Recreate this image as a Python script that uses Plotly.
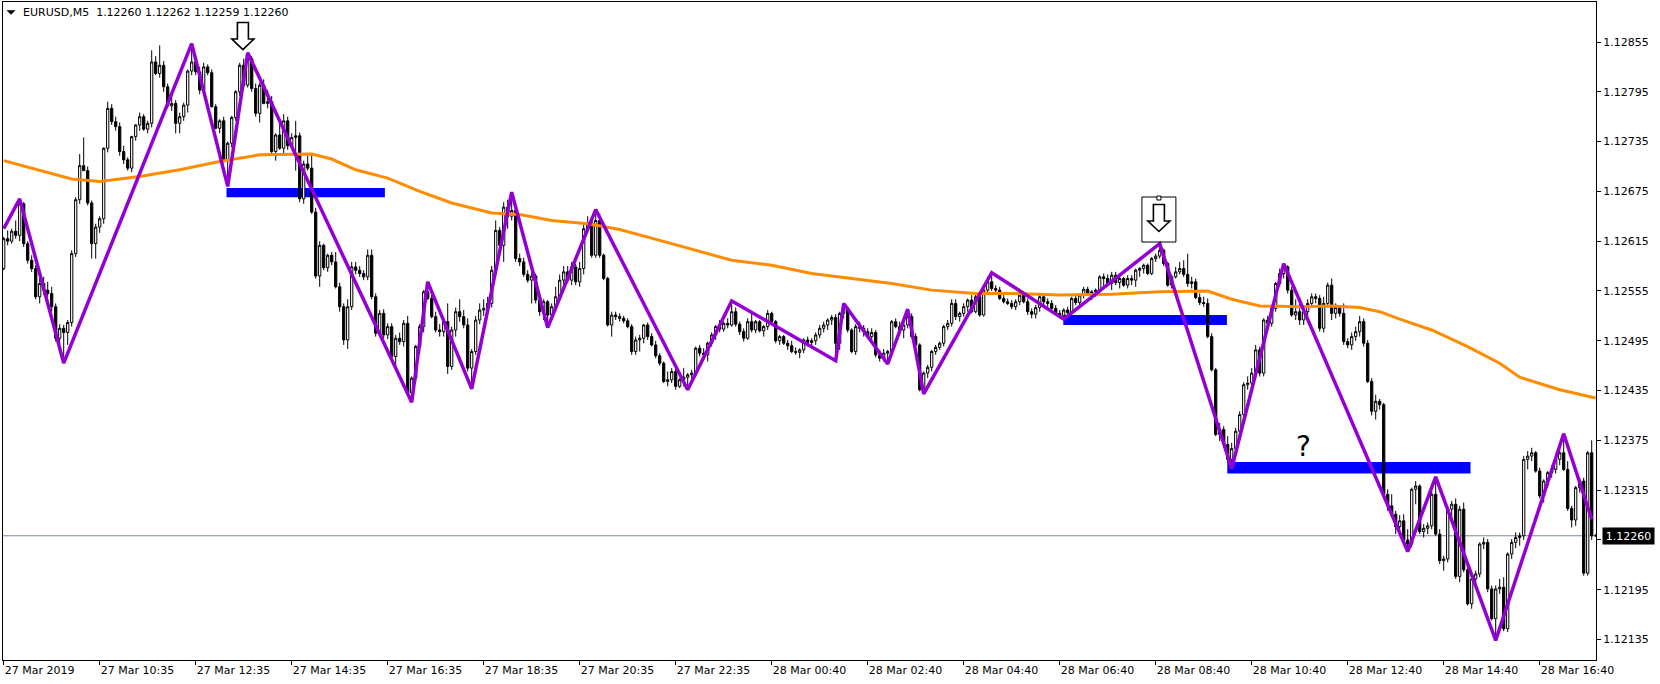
import plotly.graph_objects as go

# ---------------- DATA (prices in points above 1.12000, 1 pt = 0.00001) ----------------
open_pts = [
    582, 618, 615, 627, 622, 660, 612, 592, 582, 548,
    564, 556, 552, 536, 498, 510, 505, 517, 600, 665,
    706, 700, 661, 612, 632, 642, 727, 775, 759, 753,
    723, 713, 703, 741, 755, 765, 750, 757, 831, 817,
    827, 801, 778, 781, 757, 765, 779, 820, 831, 819,
    797, 825, 818, 777, 751, 760, 713, 733, 764, 795,
    827, 803, 835, 799, 769, 803, 781, 783, 723, 743,
    727, 760, 730, 740, 742, 666, 708, 703, 650, 573,
    610, 583, 598, 590, 560, 536, 496, 536, 584, 580,
    576, 572, 598, 548, 504, 528, 502, 512, 476, 498,
    494, 516, 432, 450, 488, 512, 554, 546, 524, 508,
    506, 518, 464, 508, 530, 524, 514, 462, 482, 520,
    532, 534, 540, 580, 628, 610, 656, 645, 652, 594,
    590, 575, 568, 573, 544, 530, 542, 526, 536, 548,
    568, 578, 568, 584, 566, 582, 630, 637, 598, 640,
    598, 570, 514, 526, 524, 522, 519, 512, 482, 496,
    498, 514, 500, 490, 477, 468, 446, 448, 458, 440,
    448, 451, 454, 456, 486, 480, 478, 492, 502, 512,
    509, 516, 514, 530, 515, 506, 498, 518, 508, 518,
    507, 512, 528, 518, 495, 500, 492, 489, 482, 481,
    484, 496, 493, 495, 502, 510, 514, 520, 523, 492,
    528, 534, 508, 482, 512, 510, 506, 500, 505, 478,
    474, 480, 482, 518, 512, 508, 514, 524, 500, 490,
    436, 456, 463, 482, 487, 492, 512, 516, 540, 524,
    528, 536, 544, 530, 548, 526, 556, 566, 558, 556,
    546, 542, 540, 536, 542, 550, 542, 530, 527, 535,
    548, 542, 540, 534, 528, 525, 532, 529, 546, 541,
    550, 557, 552, 554, 556, 572, 570, 564, 574, 565,
    570, 562, 570, 568, 580, 582, 586, 576, 594, 597,
    604, 588, 562, 572, 578, 582, 575, 564, 566, 547,
    541, 540, 500, 460, 382, 388, 370, 352, 365, 386,
    406, 442, 444, 456, 484, 456, 520, 516, 534, 564,
    576, 584, 556, 526, 530, 520, 530, 540, 548, 546,
    510, 540, 562, 528, 535, 528, 494, 490, 500, 506,
    518, 492, 446, 410, 422, 418, 310, 296, 286, 271,
    278, 255, 250, 316, 320, 265, 269, 272, 310, 262,
    230, 232, 292, 298, 211, 292, 219, 178, 208, 214,
    250, 252, 196, 160, 196, 198, 148, 238, 252, 258,
    260, 352, 356, 360, 338, 308, 326, 336, 340, 352,
    360, 340, 293, 279, 318, 326, 215, 360, 260,
]
high_pts = [
    620, 628, 630, 640, 666, 662, 615, 598, 586, 570,
    572, 566, 560, 540, 515, 514, 520, 604, 668, 720,
    740, 705, 664, 636, 645, 728, 783, 780, 765, 758,
    730, 716, 742, 756, 770, 768, 760, 845, 838, 851,
    832, 805, 790, 785, 770, 782, 822, 853, 838, 825,
    830, 828, 822, 780, 762, 765, 735, 766, 797, 830,
    835, 842, 838, 805, 806, 810, 797, 790, 745, 760,
    768, 765, 745, 760, 746, 712, 718, 720, 655, 615,
    612, 600, 602, 602, 565, 540, 545, 590, 590, 585,
    580, 605, 605, 552, 532, 533, 516, 516, 502, 505,
    520, 525, 452, 490, 515, 556, 566, 555, 530, 515,
    522, 540, 512, 535, 545, 532, 522, 485, 525, 540,
    545, 548, 585, 640, 632, 662, 665, 674, 655, 600,
    595, 580, 578, 576, 548, 545, 544, 540, 560, 575,
    585, 585, 590, 588, 590, 635, 645, 645, 653, 648,
    600, 572, 530, 530, 528, 525, 522, 515, 500, 502,
    515, 517, 504, 495, 480, 470, 458, 462, 462, 450,
    462, 456, 460, 488, 490, 486, 494, 505, 514, 520,
    518, 522, 543, 535, 518, 510, 522, 528, 520, 520,
    514, 532, 530, 520, 502, 502, 496, 495, 487, 486,
    498, 500, 498, 505, 514, 518, 522, 526, 527, 530,
    540, 536, 510, 515, 518, 514, 510, 510, 508, 484,
    485, 484, 520, 522, 518, 520, 533, 528, 504, 492,
    458, 466, 484, 490, 494, 514, 520, 545, 545, 530,
    540, 546, 550, 552, 552, 560, 572, 577, 562, 560,
    550, 546, 544, 545, 552, 552, 546, 534, 538, 550,
    550, 546, 544, 538, 532, 534, 536, 548, 550, 552,
    560, 560, 556, 558, 574, 576, 575, 578, 578, 572,
    572, 574, 574, 582, 584, 588, 588, 596, 600, 612,
    606, 590, 575, 584, 590, 592, 600, 572, 570, 552,
    548, 546, 504, 462, 396, 392, 380, 372, 390, 410,
    445, 452, 462, 490, 488, 522, 525, 536, 566, 582,
    588, 586, 560, 545, 540, 535, 545, 552, 552, 550,
    548, 565, 570, 540, 538, 540, 498, 505, 512, 525,
    522, 496, 450, 430, 425, 420, 316, 310, 290, 285,
    286, 268, 318, 326, 322, 274, 276, 314, 331, 268,
    236, 296, 302, 305, 296, 300, 222, 212, 218, 252,
    258, 256, 200, 200, 208, 210, 240, 256, 264, 264,
    356, 362, 366, 362, 342, 328, 338, 345, 355, 364,
    383, 350, 296, 320, 330, 330, 362, 375, 262,
]
low_pts = [
    580, 610, 612, 618, 615, 608, 588, 578, 545, 540,
    550, 548, 530, 494, 490, 468, 490, 512, 596, 660,
    700, 658, 594, 594, 625, 636, 722, 755, 748, 718,
    708, 700, 698, 736, 748, 748, 745, 752, 815, 812,
    795, 775, 772, 745, 745, 760, 770, 815, 815, 792,
    790, 815, 776, 750, 745, 710, 681, 728, 760, 790,
    800, 800, 795, 765, 758, 780, 775, 720, 712, 725,
    720, 725, 726, 700, 662, 660, 700, 648, 570, 560,
    580, 578, 586, 558, 530, 490, 485, 532, 575, 572,
    568, 568, 545, 500, 500, 498, 497, 470, 460, 490,
    488, 428, 421, 445, 480, 505, 544, 522, 505, 500,
    500, 455, 460, 500, 518, 510, 458, 437, 478, 515,
    525, 528, 535, 575, 605, 590, 630, 640, 590, 585,
    572, 565, 540, 540, 525, 520, 511, 520, 530, 545,
    560, 565, 562, 562, 560, 575, 625, 595, 595, 595,
    568, 512, 500, 520, 518, 516, 510, 478, 478, 482,
    492, 496, 488, 474, 465, 444, 440, 444, 436, 438,
    440, 436, 445, 452, 476, 472, 470, 488, 496, 505,
    506, 510, 512, 512, 502, 494, 496, 505, 504, 505,
    500, 508, 515, 492, 490, 490, 484, 480, 478, 474,
    480, 488, 485, 490, 498, 505, 508, 514, 471, 484,
    522, 505, 480, 478, 505, 500, 498, 496, 475, 470,
    470, 467, 478, 510, 505, 498, 510, 498, 488, 434,
    431, 450, 458, 478, 484, 488, 508, 512, 520, 518,
    524, 530, 528, 528, 524, 524, 552, 555, 552, 544,
    540, 538, 533, 532, 538, 540, 526, 522, 522, 530,
    538, 536, 532, 526, 522, 521, 526, 527, 538, 536,
    546, 550, 544, 548, 552, 560, 562, 556, 562, 558,
    560, 558, 562, 560, 572, 576, 574, 574, 590, 594,
    585, 560, 558, 570, 575, 572, 560, 558, 545, 538,
    536, 498, 458, 380, 374, 366, 348, 341, 356, 382,
    400, 436, 438, 452, 452, 452, 512, 512, 530, 560,
    570, 552, 524, 520, 514, 514, 525, 535, 540, 506,
    505, 535, 520, 522, 524, 490, 486, 484, 495, 500,
    488, 444, 405, 400, 412, 308, 290, 282, 262, 262,
    250, 241, 246, 298, 262, 258, 262, 268, 260, 226,
    218, 228, 280, 208, 204, 216, 176, 172, 200, 210,
    244, 192, 158, 134, 190, 145, 144, 232, 245, 248,
    255, 340, 350, 336, 305, 300, 318, 330, 335, 345,
    338, 290, 270, 272, 312, 212, 212, 255, 259,
]
close_pts = [
    618, 615, 627, 622, 660, 612, 592, 582, 548, 564,
    556, 552, 536, 498, 510, 505, 517, 600, 665, 706,
    700, 661, 612, 632, 642, 727, 775, 759, 753, 723,
    713, 703, 741, 755, 765, 750, 757, 831, 817, 827,
    801, 778, 781, 757, 765, 779, 820, 831, 819, 797,
    825, 818, 777, 751, 760, 713, 733, 764, 795, 827,
    803, 835, 799, 769, 803, 781, 783, 723, 743, 727,
    760, 730, 740, 742, 666, 708, 703, 650, 573, 610,
    583, 598, 590, 560, 536, 496, 536, 584, 580, 576,
    572, 598, 548, 504, 528, 502, 512, 476, 498, 494,
    516, 432, 450, 488, 512, 554, 546, 524, 508, 506,
    518, 464, 508, 530, 524, 514, 462, 482, 520, 532,
    534, 540, 580, 628, 610, 656, 645, 652, 594, 590,
    575, 568, 573, 544, 530, 542, 526, 536, 548, 568,
    578, 568, 584, 566, 582, 630, 637, 598, 640, 598,
    570, 514, 526, 524, 522, 519, 512, 482, 496, 498,
    514, 500, 490, 477, 468, 446, 448, 458, 440, 448,
    451, 454, 456, 486, 480, 478, 492, 502, 512, 509,
    516, 514, 530, 515, 506, 498, 518, 508, 518, 507,
    512, 528, 518, 495, 500, 492, 489, 482, 481, 484,
    496, 493, 495, 502, 510, 514, 520, 523, 492, 528,
    534, 508, 482, 512, 510, 506, 500, 505, 478, 474,
    480, 482, 518, 512, 508, 514, 524, 500, 490, 436,
    456, 463, 482, 487, 492, 512, 516, 540, 524, 528,
    536, 544, 530, 548, 526, 556, 566, 558, 556, 546,
    542, 540, 536, 542, 550, 542, 530, 527, 535, 548,
    542, 540, 534, 528, 525, 532, 529, 546, 541, 550,
    557, 552, 554, 556, 572, 570, 564, 574, 565, 570,
    562, 570, 568, 580, 582, 586, 576, 594, 597, 604,
    588, 562, 572, 578, 582, 575, 564, 566, 547, 541,
    540, 500, 460, 382, 388, 370, 352, 365, 386, 406,
    442, 444, 456, 484, 456, 520, 516, 534, 564, 576,
    584, 556, 526, 530, 520, 530, 540, 548, 546, 510,
    540, 562, 528, 535, 528, 494, 490, 500, 506, 518,
    492, 446, 410, 422, 418, 310, 296, 286, 271, 278,
    255, 250, 316, 320, 265, 269, 272, 310, 262, 230,
    232, 292, 298, 211, 292, 219, 178, 208, 214, 250,
    252, 196, 160, 196, 198, 148, 238, 252, 258, 260,
    352, 356, 360, 338, 308, 326, 336, 340, 352, 360,
    340, 293, 279, 318, 326, 215, 360, 260, 260,
]

# ZigZag pivots (bar index, points)
zigzag_bars = [0, 4, 15, 47, 56, 61, 102, 106, 117, 127, 136, 148, 171, 182, 208, 210,
               221, 226, 230, 247, 265, 289, 307, 320, 351, 358, 373, 390, 397]
zigzag_pts = [630, 666, 468, 853, 681, 842, 421, 566, 437, 674, 511, 653, 436, 543, 471, 540,
              467, 533, 431, 577, 521, 612, 341, 588, 241, 331, 134, 383, 280]

# Moving average samples (bar index, points)
ma_bars = [0, 17, 24, 34, 44, 54, 64, 72, 77, 82, 88, 96, 104, 112, 122, 129, 137, 146, 154,
           164, 182, 192, 202, 212, 222, 232, 243, 252, 264, 277, 289, 301, 307, 314, 324,
           332, 339, 344, 349, 357, 366, 374, 379, 389, 398]
ma_pts = [712, 690, 687, 693, 701, 711, 719, 720, 720, 714, 701, 691, 675, 661, 649, 647, 640,
          636, 629, 616, 592, 586, 576, 570, 564, 556, 552, 552, 550, 551, 554, 555, 545, 537,
          536, 537, 535, 530, 521, 508, 488, 468, 451, 436, 426]

# Blue rectangle zones (bar from, bar to, top pts, bottom pts)
zone_from = [55.7, 264.9, 305.9]
zone_to = [95.3, 305.8, 366.7]
zone_top = [679, 526, 349]
zone_bottom = [668, 514, 335]

current_price = 1.12260
title_text = "EURUSD,M5\u00a0\u00a01.12260 1.12262 1.12259 1.12260"

time_tick_bars = [0, 24, 48, 72, 96, 120, 144, 168, 192, 216, 240, 264, 288, 312, 336, 360, 384]
time_tick_labels = ["27 Mar 2019", "27 Mar 10:35", "27 Mar 12:35", "27 Mar 14:35", "27 Mar 16:35",
                    "27 Mar 18:35", "27 Mar 20:35", "27 Mar 22:35", "28 Mar 00:40", "28 Mar 02:40",
                    "28 Mar 04:40", "28 Mar 06:40", "28 Mar 08:40", "28 Mar 10:40", "28 Mar 12:40",
                    "28 Mar 14:40", "28 Mar 16:40"]
price_ticks = [1.12135, 1.12195, 1.12255, 1.12315, 1.12375, 1.12435, 1.12495,
               1.12555, 1.12615, 1.12675, 1.12735, 1.12795, 1.12855]

# sell arrows (bar, price) and question mark
arrow_bars = [59.8, 288.8]
arrow_prices = [1.128622, 1.126429]
question_bar = 325.0
question_price = 1.12367


def px(p):
    return round(1.12 + p * 1e-5, 5)


n = min(len(open_pts), len(high_pts), len(low_pts), len(close_pts))
bars = list(range(n))
O = [px(v) for v in open_pts[:n]]
C = [px(v) for v in close_pts[:n]]
Hh = [max(px(h), o, c) for h, o, c in zip(high_pts[:n], O, C)]
Ll = [min(px(l), o, c) for l, o, c in zip(low_pts[:n], O, C)]

FONT = "DejaVu Sans"
W, H = 1660, 684
ML, MR, MT, MB = 3, 64, 2, 24

fig = go.Figure()

fig.add_trace(go.Candlestick(
    x=bars, open=O, high=Hh, low=Ll, close=C,
    increasing=dict(line=dict(color="black", width=1), fillcolor="white"),
    decreasing=dict(line=dict(color="black", width=1), fillcolor="black"),
    whiskerwidth=0, hoverinfo="skip", showlegend=False,
))
fig.add_trace(go.Scatter(x=ma_bars, y=[px(v) for v in ma_pts], mode="lines",
                         line=dict(color="#FF8C00", width=3), hoverinfo="skip", showlegend=False))
fig.add_trace(go.Scatter(x=zigzag_bars, y=[px(v) for v in zigzag_pts], mode="lines",
                         line=dict(color="#9400D3", width=3.5), hoverinfo="skip", showlegend=False))

shapes = []
for a, b, t, bt in zip(zone_from, zone_to, zone_top, zone_bottom):
    shapes.append(dict(type="rect", xref="x", yref="y", x0=a, x1=b, y0=px(bt), y1=px(t),
                       fillcolor="#0000FF", line=dict(width=0), layer="below"))
shapes.append(dict(type="line", xref="paper", yref="y", x0=0, x1=1, y0=current_price, y1=current_price,
                   line=dict(color="#778899", width=1), layer="below"))
# hollow down arrows (sell signals)
arrow_path = "M -5.5 13.5 L 5.5 13.5 L 5.5 -3 L 11 -3 L 0 -13.5 L -11 -3 L -5.5 -3 Z"
for b, p in zip(arrow_bars, arrow_prices):
    shapes.append(dict(type="path", xref="x", yref="y", xsizemode="pixel", ysizemode="pixel",
                       xanchor=b, yanchor=p, path=arrow_path, fillcolor="white",
                       line=dict(color="black", width=1.6)))
# selection frame around second arrow
shapes.append(dict(type="rect", xref="x", yref="y", xsizemode="pixel", ysizemode="pixel",
                   xanchor=arrow_bars[1], yanchor=arrow_prices[1], x0=-17, x1=17, y0=-24, y1=21,
                   line=dict(color="black", width=1), fillcolor="rgba(0,0,0,0)"))
shapes.append(dict(type="rect", xref="x", yref="y", xsizemode="pixel", ysizemode="pixel",
                   xanchor=arrow_bars[1], yanchor=arrow_prices[1], x0=-2, x1=2, y0=18, y1=22,
                   line=dict(color="black", width=1), fillcolor="white"))
# small menu triangle at top left
shapes.append(dict(type="path", xref="paper", yref="paper", xsizemode="pixel", ysizemode="pixel",
                   xanchor=0, yanchor=1, path="M 4 -8.5 L 12 -8.5 L 8 -12.5 Z",
                   fillcolor="black", line=dict(color="black", width=0.5)))

annotations = [
    dict(xref="paper", yref="paper", x=0, y=1, xshift=17.5, yshift=-10.5, xanchor="left",
         yanchor="middle", text=title_text, showarrow=False,
         font=dict(family=FONT, size=11, color="black")),
    dict(xref="paper", yref="y", x=1, y=current_price, xanchor="left", yanchor="middle", xshift=6,
         text="1.12260", showarrow=False, bgcolor="black", width=49, height=14, borderpad=1,
         font=dict(family=FONT, size=11, color="white")),
    dict(xref="x", yref="y", x=question_bar, y=question_price, text="?", showarrow=False,
         font=dict(family=FONT, size=28, color="black"), xanchor="center", yanchor="middle"),
]

# the 1.12255 label sits under the current-price box
price_tick_text = ["" if abs(v - 1.12255) < 1e-9 else f"{v:.5f}" for v in price_ticks]

plot_w = W - ML - MR
x0r = -0.175
x1r = x0r + plot_w / 4.0
ytop = 1.12135 + (639.5 - MT) / 82986.0
ybot = 1.12135 - (H - MB - 639.5) / 82986.0

fig.update_layout(
    width=W, height=H, autosize=False,
    margin=dict(l=ML, r=MR, t=MT, b=MB, pad=0),
    paper_bgcolor="white", plot_bgcolor="white",
    showlegend=False, hovermode=False,
    boxgap=0.25, boxgroupgap=0.25,
    shapes=shapes, annotations=annotations,
    font=dict(family=FONT, size=11, color="black"),
    xaxis=dict(range=[x0r, x1r], showgrid=False, zeroline=False, rangeslider=dict(visible=False),
               showline=True, linecolor="black", linewidth=1, mirror=True,
               tickmode="array", tickvals=time_tick_bars, ticktext=time_tick_labels,
               ticks="outside", ticklen=4, tickcolor="black", ticklabelposition="outside right",
               tickfont=dict(family=FONT, size=11, color="black")),
    yaxis=dict(range=[ybot, ytop], side="right", showgrid=False, zeroline=False,
               showline=True, linecolor="black", linewidth=1, mirror=True,
               tickmode="array", tickvals=price_ticks, ticktext=price_tick_text,
               ticks="outside", ticklen=4, tickcolor="black",
               tickfont=dict(family=FONT, size=11, color="black")),
)

fig.write_html("out.html", config={"displayModeBar": False},
               post_script="document.body.style.margin='0';document.body.style.overflow='hidden';")
